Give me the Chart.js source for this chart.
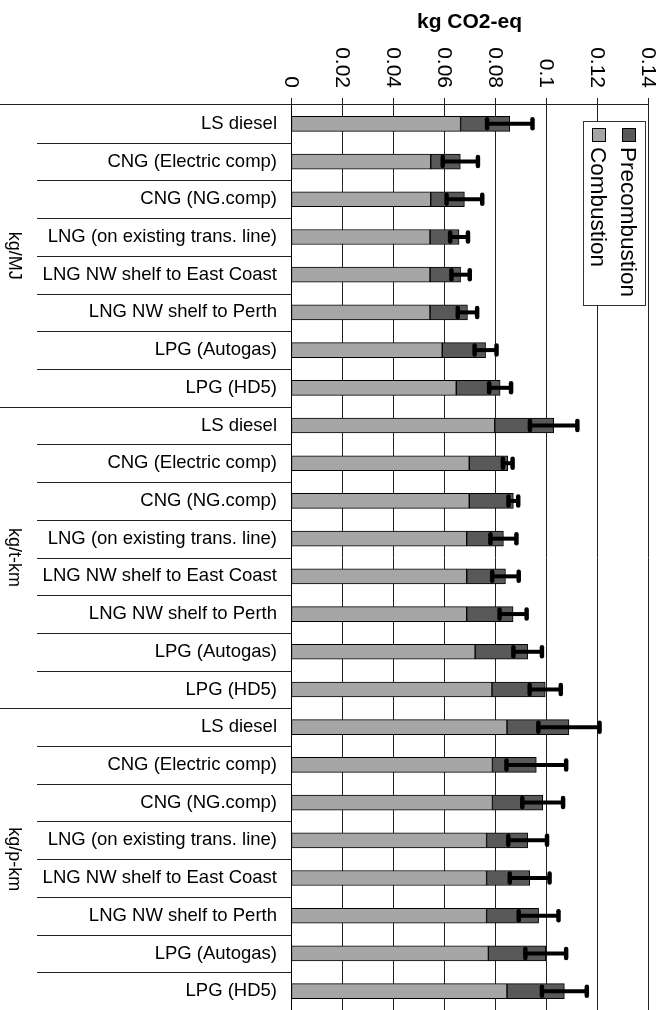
<!DOCTYPE html>
<html>
<head>
<meta charset="utf-8">
<script src="https://cdn.jsdelivr.net/npm/chart.js@4.4.1/dist/chart.umd.min.js"></script>
<style>
  html, body { margin: 0; padding: 0; background: #fff; }
  #wrap { position: relative; width: 666px; height: 1010px; }
</style>
</head>
<body>
<div id="wrap"><canvas id="chart" width="666" height="1010"></canvas></div>
<script>
// fuels repeat once per functional unit group
const fuels = ['LS diesel', 'CNG (Electric comp)', 'CNG (NG.comp)', 'LNG (on existing trans. line)',
  'LNG NW shelf to East Coast', 'LNG NW shelf to Perth', 'LPG (Autogas)', 'LPG (HD5)'];
const groups = ['kg/MJ', 'kg/t-km', 'kg/p-km'];
const categories = [...fuels, ...fuels, ...fuels];

const combustion = [0.0665, 0.0548, 0.0548, 0.0545, 0.0545, 0.0545, 0.0593, 0.0648,
  0.0799, 0.0699, 0.0699, 0.0689, 0.0689, 0.0689, 0.0722, 0.0788,
  0.0847, 0.0790, 0.0790, 0.0767, 0.0767, 0.0767, 0.0774, 0.0847];
const precombustion = [0.0193, 0.0116, 0.0132, 0.0114, 0.0120, 0.0147, 0.0170, 0.0172,
  0.0231, 0.0151, 0.0173, 0.0144, 0.0152, 0.0182, 0.0206, 0.0209,
  0.0243, 0.0172, 0.0197, 0.0161, 0.0169, 0.0204, 0.0225, 0.0225];
// +/- on the total
const errors = [0.0089, 0.0069, 0.0070, 0.0035, 0.0036, 0.0038, 0.0043, 0.0043,
  0.0093, 0.0019, 0.0019, 0.0051, 0.0052, 0.0053, 0.0056, 0.0061,
  0.0120, 0.0117, 0.0080, 0.0076, 0.0078, 0.0078, 0.0080, 0.0088];

const tickValues = [0, 0.02, 0.04, 0.06, 0.08, 0.1, 0.12, 0.14];
const tickLabels = ['0', '0.02', '0.04', '0.06', '0.08', '0.1', '0.12', '0.14'];

const FONT = '"Liberation Sans", Arial, sans-serif';
const DARK = '#595959';
const LIGHT = '#a6a6a6';

function rotText(ctx, text, x, y, align, baseline) {
  ctx.save();
  ctx.translate(x, y);
  ctx.rotate(Math.PI / 2);
  ctx.textAlign = align;
  ctx.textBaseline = baseline;
  ctx.fillText(text, 0, 0);
  ctx.restore();
}

const decor = {
  id: 'decor',
  afterDatasetsDraw(chart) {
    const { ctx, scales: { x, y } } = chart;
    ctx.save();
    ctx.strokeStyle = '#000';
    categories.forEach((_, i) => {
      const total = combustion[i] + precombustion[i];
      const x1 = x.getPixelForValue(total - errors[i]);
      const x2 = x.getPixelForValue(total + errors[i]);
      const yc = y.getPixelForValue(i);
      ctx.lineWidth = 4;
      ctx.lineCap = 'butt';
      ctx.beginPath();
      ctx.moveTo(x1, yc);
      ctx.lineTo(x2, yc);
      ctx.stroke();
      ctx.lineWidth = 4.5;
      ctx.lineCap = 'round';
      [x1, x2].forEach(px => {
        ctx.beginPath();
        ctx.moveTo(px, yc - 4.5);
        ctx.lineTo(px, yc + 4.5);
        ctx.stroke();
      });
    });
    ctx.restore();
  },
  afterDraw(chart) {
    const { ctx, chartArea, scales: { x, y } } = chart;
    ctx.save();

    // top rule and row separators
    ctx.strokeStyle = '#222';
    ctx.lineWidth = 1;
    ctx.beginPath();
    ctx.moveTo(0, chartArea.top - 0.5);
    ctx.lineTo(chartArea.right, chartArea.top - 0.5);
    for (let i = 1; i < categories.length; i++) {
      const yb = Math.round((y.getPixelForValue(i - 1) + y.getPixelForValue(i)) / 2) + 0.5;
      ctx.moveTo(i % fuels.length === 0 ? 0 : 37, yb);
      ctx.lineTo(chartArea.left, yb);
    }
    ctx.stroke();

    // row labels
    ctx.fillStyle = '#000';
    ctx.font = '18.5px ' + FONT;
    ctx.textAlign = 'right';
    ctx.textBaseline = 'middle';
    categories.forEach((c, i) => ctx.fillText(c, 277, y.getPixelForValue(i)));

    // group labels
    ctx.font = '18px ' + FONT;
    groups.forEach((g, k) => {
      const a = y.getPixelForValue(k * fuels.length);
      const b = y.getPixelForValue((k + 1) * fuels.length - 1);
      rotText(ctx, g, 14, (a + b) / 2, 'center', 'middle');
    });

    // tick labels, rotated
    ctx.font = '21px ' + FONT;
    tickValues.forEach((v, i) => rotText(ctx, tickLabels[i], x.getPixelForValue(v), 88, 'right', 'middle'));

    // axis title
    ctx.font = 'bold 21px ' + FONT;
    ctx.textAlign = 'center';
    ctx.textBaseline = 'alphabetic';
    ctx.fillText('kg CO2-eq', (chartArea.left + chartArea.right) / 2, 28);

    // legend box
    ctx.fillStyle = '#fff';
    ctx.fillRect(583.5, 121.5, 62, 184);
    ctx.strokeStyle = '#333';
    ctx.strokeRect(583.5, 121.5, 62, 184);
    const entries = [['Precombustion', DARK, 621], ['Combustion', LIGHT, 591]];
    ctx.font = '22.5px ' + FONT;
    entries.forEach(([name, col, lx]) => {
      ctx.fillStyle = col;
      ctx.fillRect(lx + 1.5, 128.5, 13, 13);
      ctx.strokeStyle = '#000';
      ctx.strokeRect(lx + 1.5, 128.5, 13, 13);
      ctx.fillStyle = '#000';
      rotText(ctx, name, lx, 147, 'left', 'alphabetic');
    });
    ctx.restore();
  }
};

new Chart(document.getElementById('chart'), {
  type: 'bar',
  data: {
    labels: categories,
    datasets: [
      { label: 'Combustion', data: combustion, backgroundColor: LIGHT, borderColor: '#000', borderWidth: 1, borderSkipped: false, barThickness: 15 },
      { label: 'Precombustion', data: precombustion, backgroundColor: DARK, borderColor: '#000', borderWidth: 1, borderSkipped: false, barThickness: 15 }
    ]
  },
  options: {
    indexAxis: 'y',
    responsive: false,
    animation: false,
    layout: { padding: { top: 0, left: 0, right: 18, bottom: -3 } },
    plugins: { legend: { display: false }, tooltip: { enabled: false } },
    scales: {
      x: {
        position: 'top',
        stacked: true,
        min: 0,
        max: 0.14,
        ticks: { display: false, stepSize: 0.02 },
        grid: { color: '#222', tickLength: 7 },
        border: { display: false },
        afterFit(s) { s.height = 105; }
      },
      y: {
        stacked: true,
        offset: true,
        ticks: { display: false },
        grid: { display: false },
        border: { display: true, color: '#000' },
        afterFit(s) { s.width = 291; }
      }
    }
  },
  plugins: [decor]
});
</script>
</body>
</html>
